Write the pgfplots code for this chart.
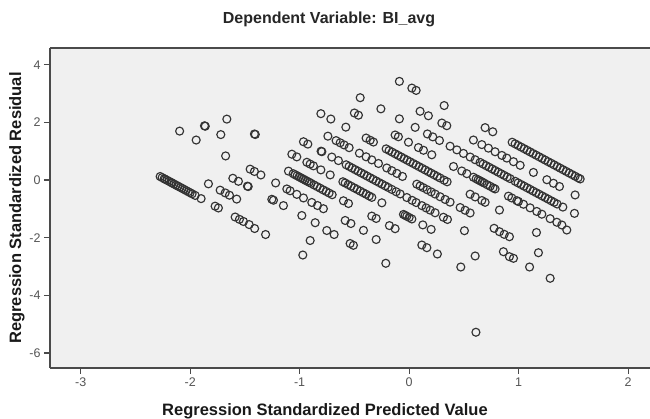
\documentclass[border=0pt]{standalone}
\usepackage{fontspec}
\setmainfont{Liberation Sans}
\usepackage{pgfplots}
\usepackage{pgfplotstable}
\pgfplotsset{compat=1.18}
\definecolor{plotbg}{HTML}{F0F0F0}
\definecolor{axisgray}{HTML}{4A4A4A}
\definecolor{ticktext}{HTML}{555555}

% standardized predicted value vs standardized residual
\pgfplotstableread{
x y
-2.274 0.122
-2.256 0.085
-2.237 0.046
-2.228 0.027
-2.210 -0.010
-2.192 -0.046
-2.174 -0.083
-2.164 -0.104
-2.146 -0.141
-2.128 -0.178
-2.110 -0.215
-2.091 -0.253
-2.073 -0.290
-2.055 -0.327
-2.037 -0.364
-2.018 -0.403
-2.000 -0.440
-1.982 -0.477
-1.954 -0.534
-1.900 -0.645
-1.772 -0.907
-1.742 -0.969
-1.589 -1.283
-1.550 -1.363
-1.513 -1.438
-1.461 -1.545
-1.411 -1.682
-1.311 -1.890
-0.971 -2.601
-1.833 -0.132
-1.726 -0.352
-1.680 -0.446
-1.641 -0.526
-1.575 -0.661
-0.904 -2.098
-1.610 0.061
-1.559 -0.044
-1.477 -0.212
-1.470 -0.226
-1.254 -0.669
-1.239 -0.700
-1.148 -0.887
-0.980 -1.231
-0.858 -1.481
-0.752 -1.751
-0.685 -1.890
-0.539 -2.202
-0.509 -2.264
-0.213 -2.888
-2.096 1.697
-1.945 1.387
-1.676 0.836
-1.452 0.377
-1.413 0.297
-1.354 0.176
-1.219 -0.101
-1.117 -0.310
-1.087 -0.372
-1.026 -0.497
-0.965 -0.622
-0.889 -0.778
-0.837 -0.884
-0.783 -0.995
-0.584 -1.403
-0.532 -1.509
-0.417 -1.745
-0.301 -2.063
-1.869 1.881
-1.862 1.867
-1.720 1.576
-1.102 0.309
-1.059 0.221
-1.041 0.184
-1.023 0.147
-1.005 0.110
-0.986 0.071
-0.968 0.034
-0.950 -0.003
-0.932 -0.040
-0.913 -0.078
-0.895 -0.115
-0.868 -0.171
-0.840 -0.228
-0.813 -0.283
-0.786 -0.339
-0.758 -0.396
-0.731 -0.451
-0.703 -0.509
-0.600 -0.720
-0.554 -0.814
-0.341 -1.251
-0.301 -1.333
-0.180 -1.581
-0.128 -1.688
0.116 -2.254
0.162 -2.347
0.258 -2.566
0.472 -3.017
-1.665 2.113
-1.413 1.597
-1.405 1.580
-1.071 0.896
-1.026 0.803
-0.934 0.615
-0.904 0.553
-0.874 0.492
-0.806 0.352
-0.721 0.178
-0.605 -0.060
-0.584 -0.103
-0.557 -0.158
-0.530 -0.214
-0.502 -0.271
-0.475 -0.326
-0.447 -0.384
-0.420 -0.439
-0.393 -0.494
-0.365 -0.552
-0.341 -0.601
-0.249 -0.790
-0.052 -1.193
-0.037 -1.224
-0.021 -1.257
0.000 -1.300
0.025 -1.351
0.125 -1.556
0.201 -1.712
0.603 -2.635
-0.965 1.328
-0.925 1.246
-0.804 1.000
-0.797 0.984
-0.706 0.797
-0.646 0.674
-0.575 0.529
-0.548 0.473
-0.521 0.418
-0.493 0.361
-0.466 0.305
-0.438 0.248
-0.411 0.193
-0.384 0.137
-0.356 0.080
-0.329 0.024
-0.301 -0.033
-0.274 -0.088
-0.247 -0.144
-0.219 -0.201
-0.192 -0.256
-0.158 -0.326
-0.119 -0.406
-0.082 -0.482
-0.021 -0.607
0.027 -0.705
0.064 -0.781
0.116 -0.888
0.155 -0.968
0.192 -1.044
0.237 -1.136
0.313 -1.292
0.350 -1.368
0.505 -1.758
0.861 -2.486
0.916 -2.659
0.953 -2.715
1.100 -3.017
1.288 -3.408
-0.742 1.522
-0.667 1.367
-0.630 1.292
-0.594 1.218
-0.548 1.123
-0.454 0.931
-0.393 0.806
-0.341 0.699
-0.280 0.574
-0.204 0.418
-0.158 0.324
-0.112 0.230
-0.061 0.125
0.070 -0.144
0.100 -0.205
0.128 -0.262
0.164 -0.336
0.201 -0.412
0.237 -0.486
0.283 -0.580
0.329 -0.674
0.374 -0.767
0.466 -0.955
0.511 -1.048
0.557 -1.142
0.776 -1.675
0.825 -1.793
0.868 -1.883
0.916 -1.966
1.181 -2.521
-0.806 2.302
-0.715 2.116
-0.578 1.835
-0.393 1.456
-0.356 1.380
-0.326 1.318
-0.210 1.081
-0.183 1.025
-0.155 0.968
-0.128 0.912
-0.100 0.855
-0.073 0.800
-0.046 0.744
-0.018 0.687
0.009 0.632
0.037 0.574
0.064 0.519
0.091 0.463
0.119 0.406
0.146 0.351
0.174 0.293
0.201 0.238
0.228 0.183
0.256 0.125
0.283 0.070
0.320 -0.006
0.347 -0.061
0.557 -0.492
0.603 -0.586
0.664 -0.711
0.694 -0.773
0.825 -1.041
1.163 -1.820
-0.500 2.325
-0.463 2.249
-0.128 1.562
-0.098 1.501
-0.006 1.312
0.085 1.126
0.131 1.032
0.207 0.876
0.405 0.470
0.481 0.314
0.527 0.220
0.587 0.097
0.612 0.045
0.630 0.008
0.648 -0.028
0.667 -0.067
0.685 -0.104
0.712 -0.160
0.740 -0.217
0.767 -0.272
0.785 -0.309
0.907 -0.559
0.938 -0.623
0.984 -0.717
0.998 -0.746
1.044 -0.840
1.105 -0.965
1.166 -1.090
1.212 -1.185
1.288 -1.340
1.349 -1.465
1.395 -1.560
1.440 -1.734
-0.447 2.856
-0.258 2.469
-0.089 2.122
0.055 1.827
0.167 1.598
0.216 1.497
0.277 1.372
0.374 1.173
0.436 1.046
0.496 0.923
0.557 0.798
0.603 0.704
0.648 0.612
0.676 0.554
0.703 0.499
0.731 0.442
0.758 0.386
0.785 0.331
0.813 0.273
0.840 0.218
0.868 0.161
0.895 0.105
0.922 0.050
0.968 -0.044
0.995 -0.100
1.023 -0.157
1.050 -0.213
1.078 -0.270
1.105 -0.325
1.132 -0.381
1.160 -0.438
1.187 -0.493
1.215 -0.551
1.242 -0.606
1.269 -0.661
1.297 -0.719
1.324 -0.774
1.352 -0.832
1.404 -0.938
1.510 -1.156
0.100 2.385
0.176 2.229
0.299 1.977
0.344 1.885
0.587 1.387
0.664 1.229
0.724 1.106
0.785 0.981
0.847 0.854
0.892 0.761
0.953 0.636
1.014 0.511
1.135 0.263
1.258 0.011
1.318 -0.112
1.373 -0.225
1.516 -0.518
-0.089 3.422
0.025 3.189
0.064 3.109
0.320 2.584
0.694 1.817
0.764 1.674
0.941 1.311
0.968 1.256
0.995 1.200
1.023 1.143
1.050 1.088
1.078 1.030
1.105 0.975
1.132 0.919
1.160 0.862
1.187 0.807
1.215 0.749
1.242 0.694
1.269 0.638
1.297 0.581
1.324 0.526
1.352 0.468
1.379 0.413
1.406 0.358
1.434 0.300
1.461 0.245
1.488 0.190
1.516 0.132
1.543 0.077
1.562 0.038
0.610 -5.280
}\residuals

\begin{document}
\begin{tikzpicture}
  \useasboundingbox (0,0) rectangle (650pt,419pt);
  \begin{axis}[
      at={(50pt,51pt)}, anchor=south west,
      scale only axis,
      width=600pt, height=320pt,
      xmin=-3.28, xmax=2.20,
      ymin=-6.52, ymax=4.58,
      axis lines*=left,
      axis line style={axisgray, line width=1.5pt, -},
      axis background/.style={fill=plotbg},
      xtick={-3,-2,-1,0,1,2},
      xticklabels={-3,-2,-1,0,1,2},
      ytick={-6,-4,-2,0,2,4},
      yticklabels={-6,-4,-2,0,2,4},
      tick align=outside,
      major tick length=6pt,
      tick style={axisgray, line width=1.1pt},
      ticklabel style={font=\fontsize{12.5}{14}\selectfont, text=ticktext},
      xlabel={Regression Standardized Predicted Value},
      ylabel={Regression Standardized Residual},
      label style={font=\fontsize{16.5}{19}\selectfont\bfseries, text=black!90},
      xlabel style={at={(axis description cs:0.4583,-0.135)}, anchor=center},
      ylabel style={at={(axis description cs:-0.055,0.5)}, anchor=center, rotate=0},
      title={Dependent Variable: BI\_avg},
      title style={at={(axis description cs:0.465,1.072)}, anchor=center,
        font=\fontsize{16}{19}\selectfont\bfseries, text=black!85},
      clip=false,
    ]
    \draw[axisgray, line width=1.5pt] (axis description cs:0,1) -- (axis description cs:1,1);
    \addplot[only marks, mark=o, mark size=4pt,
      mark options={draw=black!80, line width=1.15pt}] table {\residuals};
  \end{axis}
\end{tikzpicture}
\end{document}
